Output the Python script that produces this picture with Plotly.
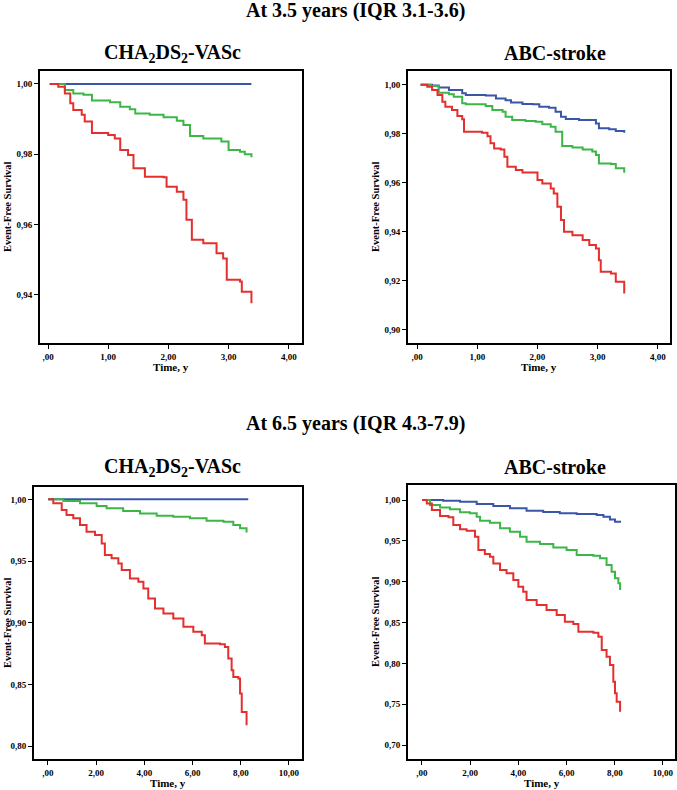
import plotly.graph_objects as go

# ---------------- DATA ----------------
# Panel A: 3.5 years, CHA2DS2-VASc
a_low_t = [0.03, 3.38]
a_low_s = [1.00, 1.00]
a_mid_t = [0.03, 0.28, 0.42, 0.59, 0.73, 1.03, 1.20, 1.36, 1.45, 1.69, 1.92, 2.14, 2.25, 2.36, 2.58, 2.88, 3.00, 3.19, 3.27, 3.38]
a_mid_s = [1.00, 0.9983, 0.9973, 0.9969, 0.9953, 0.9948, 0.9935, 0.9928, 0.9916, 0.9912, 0.9905, 0.9895, 0.9883, 0.9852, 0.9845, 0.9836, 0.9812, 0.9807, 0.9800, 0.9791]
a_high_t = [0.03, 0.17, 0.28, 0.37, 0.42, 0.56, 0.61, 0.73, 1.00, 1.11, 1.20, 1.33, 1.42, 1.61, 1.92, 1.97, 2.14, 2.25, 2.30, 2.39, 2.58, 2.80, 2.91, 2.97, 3.19, 3.22, 3.38, 3.38]
a_high_s = [1.00, 0.9992, 0.9973, 0.9945, 0.9926, 0.9912, 0.9893, 0.9860, 0.9855, 0.9845, 0.9812, 0.9798, 0.9760, 0.9736, 0.9734, 0.9707, 0.9693, 0.9670, 0.9613, 0.9556, 0.9546, 0.9518, 0.9503, 0.9442, 0.9437, 0.9408, 0.9404, 0.9375]

# Panel B: 3.5 years, ABC-stroke
b_low_t = [0.06, 0.25, 0.36, 0.53, 0.75, 0.81, 1.14, 1.31, 1.47, 1.56, 1.75, 1.92, 2.03, 2.19, 2.30, 2.39, 2.47, 2.69, 2.97, 3.02, 3.19, 3.30, 3.44]
b_low_s = [1.00, 0.9997, 0.9989, 0.9978, 0.9965, 0.9958, 0.9956, 0.9944, 0.9937, 0.9927, 0.9921, 0.9920, 0.9910, 0.9906, 0.9890, 0.9869, 0.9860, 0.9856, 0.9842, 0.9822, 0.9818, 0.9811, 0.9804]
b_mid_t = [0.06, 0.23, 0.36, 0.53, 0.61, 0.75, 0.81, 1.14, 1.25, 1.42, 1.47, 1.58, 1.80, 1.97, 2.08, 2.22, 2.30, 2.41, 2.58, 2.75, 2.91, 2.97, 3.02, 3.22, 3.30, 3.44]
b_mid_s = [1.00, 0.9995, 0.9967, 0.9961, 0.9951, 0.9924, 0.9920, 0.9913, 0.9897, 0.9890, 0.9869, 0.9856, 0.9852, 0.9849, 0.9839, 0.9829, 0.9808, 0.9750, 0.9744, 0.9736, 0.9727, 0.9713, 0.9679, 0.9676, 0.9659, 0.9641]
b_high_t = [0.06, 0.17, 0.25, 0.34, 0.42, 0.47, 0.58, 0.67, 0.75, 0.78, 1.08, 1.17, 1.22, 1.28, 1.39, 1.45, 1.50, 1.64, 1.75, 1.94, 2.00, 2.08, 2.22, 2.27, 2.33, 2.39, 2.44, 2.58, 2.75, 2.86, 2.97, 3.02, 3.05, 3.22, 3.30, 3.44, 3.44]
b_high_s = [1.00, 0.9992, 0.9978, 0.9958, 0.9931, 0.9910, 0.9897, 0.9872, 0.9859, 0.9808, 0.9804, 0.9790, 0.9761, 0.9740, 0.9736, 0.9706, 0.9665, 0.9652, 0.9642, 0.9642, 0.9611, 0.9597, 0.9577, 0.9556, 0.9502, 0.9448, 0.9400, 0.9386, 0.9366, 0.9346, 0.9332, 0.9284, 0.9237, 0.9230, 0.9196, 0.9189, 0.9148]

# Panel C: 6.5 years, CHA2DS2-VASc
c_low_t = [0.01, 8.31]
c_low_s = [1.00, 1.00]
c_mid_t = [0.01, 0.64, 1.33, 2.02, 2.43, 3.12, 3.82, 4.51, 5.20, 5.89, 6.58, 7.28, 7.69, 7.97, 8.24]
c_mid_s = [1.00, 0.9986, 0.9968, 0.9946, 0.9927, 0.9905, 0.9886, 0.9868, 0.9859, 0.9846, 0.9827, 0.9819, 0.9792, 0.9765, 0.9732]
c_high_t = [0.01, 0.22, 0.57, 0.77, 1.05, 1.33, 1.60, 1.95, 2.23, 2.36, 2.64, 2.92, 3.06, 3.40, 3.75, 3.96, 4.16, 4.44, 4.79, 5.20, 5.62, 6.03, 6.38, 6.51, 7.14, 7.34, 7.48, 7.62, 7.69, 7.90, 7.97, 8.04, 8.24, 8.24]
c_high_s = [1.00, 0.9968, 0.9914, 0.9873, 0.9846, 0.9792, 0.9738, 0.9711, 0.9643, 0.9549, 0.9522, 0.9481, 0.9427, 0.9359, 0.9332, 0.9278, 0.9197, 0.9116, 0.9076, 0.9035, 0.8968, 0.8927, 0.8900, 0.8832, 0.8827, 0.8805, 0.8711, 0.8616, 0.8562, 0.8549, 0.8427, 0.8278, 0.8265, 0.8170]

# Panel D: 6.5 years, ABC-stroke
d_low_t = [0.00, 0.88, 1.58, 2.27, 2.96, 3.65, 4.34, 5.03, 5.72, 6.42, 7.25, 7.53, 7.80, 8.01, 8.22]
d_low_s = [1.00, 0.9992, 0.9980, 0.9951, 0.9927, 0.9898, 0.9869, 0.9853, 0.9837, 0.9829, 0.9816, 0.9796, 0.9763, 0.9735, 0.9722]
d_mid_t = [0.00, 0.33, 0.75, 1.16, 1.58, 1.99, 2.27, 2.41, 2.82, 3.24, 3.65, 4.07, 4.34, 4.90, 5.45, 6.00, 6.42, 7.11, 7.39, 7.66, 7.87, 8.01, 8.15, 8.22]
d_mid_s = [1.00, 0.9939, 0.9910, 0.9886, 0.9849, 0.9837, 0.9796, 0.9747, 0.9722, 0.9653, 0.9612, 0.9551, 0.9490, 0.9461, 0.9420, 0.9388, 0.9327, 0.9318, 0.9286, 0.9204, 0.9122, 0.9041, 0.8980, 0.8898]
d_high_t = [0.00, 0.20, 0.41, 0.75, 1.10, 1.30, 1.58, 1.85, 2.20, 2.34, 2.61, 2.82, 2.96, 3.24, 3.51, 3.79, 4.00, 4.20, 4.34, 4.76, 5.17, 5.59, 5.93, 6.28, 6.49, 7.11, 7.32, 7.46, 7.66, 7.80, 7.94, 8.01, 8.08, 8.22, 8.22]
d_high_s = [1.00, 0.9959, 0.9878, 0.9804, 0.9788, 0.9694, 0.9641, 0.9624, 0.9551, 0.9388, 0.9339, 0.9306, 0.9224, 0.9143, 0.9102, 0.9020, 0.8939, 0.8878, 0.8776, 0.8714, 0.8653, 0.8592, 0.8510, 0.8482, 0.8388, 0.8376, 0.8327, 0.8163, 0.8082, 0.7980, 0.7776, 0.7633, 0.7531, 0.7510, 0.7408]

# tick labels
x_ticks_short = [0, 1, 2, 3, 4]
x_text_short = [",00", "1,00", "2,00", "3,00", "4,00"]
x_ticks_long = [0, 2, 4, 6, 8, 10]
x_text_long = [",00", "2,00", "4,00", "6,00", "8,00", "10,00"]
y_ticks_a = [0.94, 0.96, 0.98, 1.00]
y_text_a = ["0,94", "0,96", "0,98", "1,00"]
y_ticks_b = [0.90, 0.92, 0.94, 0.96, 0.98, 1.00]
y_text_b = ["0,90", "0,92", "0,94", "0,96", "0,98", "1,00"]
y_ticks_c = [0.80, 0.85, 0.90, 0.95, 1.00]
y_text_c = ["0,80", "0,85", "0,90", "0,95", "1,00"]
y_ticks_d = [0.70, 0.75, 0.80, 0.85, 0.90, 0.95, 1.00]
y_text_d = ["0,70", "0,75", "0,80", "0,85", "0,90", "0,95", "1,00"]

main_titles = ["At 3.5 years (IQR 3.1-3.6)", "At 6.5 years (IQR 4.3-7.9)"]
panel_titles = ["CHA<sub>2</sub>DS<sub>2</sub>-VASc", "ABC-stroke"]
y_title = "Event-Free Survival"
x_title = "Time, y"

# ---------------- STYLE / LAYOUT ----------------
W, H = 677, 790
BLUE, GREEN, RED = "#3a56a8", "#3db648", "#e3302f"
FONT = "Liberation Serif"

# panel pixel boxes: (left, right, top, bottom), x-range, y-range
panels = [
    dict(box=(40, 302, 71, 343), xr=[-0.133, 4.22], yr=[0.9262, 1.0037],
         xt=(x_ticks_short, x_text_short), yt=(y_ticks_a, y_text_a),
         series=[(a_low_t, a_low_s, BLUE), (a_mid_t, a_mid_s, GREEN), (a_high_t, a_high_s, RED)]),
    dict(box=(408, 670, 71, 343), xr=[-0.15, 4.20], yr=[0.8946, 1.0056],
         xt=(x_ticks_short, x_text_short), yt=(y_ticks_b, y_text_b),
         series=[(b_low_t, b_low_s, BLUE), (b_mid_t, b_mid_s, GREEN), (b_high_t, b_high_s, RED)]),
    dict(box=(34, 302, 487, 759), xr=[-0.58, 10.54], yr=[0.7897, 1.0100],
         xt=(x_ticks_long, x_text_long), yt=(y_ticks_c, y_text_c),
         series=[(c_low_t, c_low_s, BLUE), (c_mid_t, c_mid_s, GREEN), (c_high_t, c_high_s, RED)]),
    dict(box=(408, 675, 485, 759), xr=[-0.58, 10.50], yr=[0.6829, 1.0184],
         xt=(x_ticks_long, x_text_long), yt=(y_ticks_d, y_text_d),
         series=[(d_low_t, d_low_s, BLUE), (d_mid_t, d_mid_s, GREEN), (d_high_t, d_high_s, RED)]),
]

fig = go.Figure()
layout = dict(width=W, height=H, margin=dict(l=0, r=0, t=0, b=0),
              paper_bgcolor="white", plot_bgcolor="white", showlegend=False)

tickfont = dict(family=FONT, size=9, color="black", weight="bold")
annotations = []

for i, p in enumerate(panels, start=1):
    l, r, t, b = p["box"]
    xa = "xaxis" if i == 1 else f"xaxis{i}"
    ya = "yaxis" if i == 1 else f"yaxis{i}"
    xref = "x" if i == 1 else f"x{i}"
    yref = "y" if i == 1 else f"y{i}"
    common = dict(showline=True, mirror=True, linecolor="black", linewidth=2,
                  ticks="outside", ticklen=4, tickwidth=1, tickcolor="black",
                  showgrid=False, zeroline=False, tickfont=tickfont, fixedrange=True)
    layout[xa] = dict(domain=[l / W, r / W], range=p["xr"], anchor=yref,
                      tickvals=p["xt"][0], ticktext=p["xt"][1], **common)
    layout[ya] = dict(domain=[1 - b / H, 1 - t / H], range=p["yr"], anchor=xref,
                      tickvals=p["yt"][0], ticktext=p["yt"][1], **common)
    for tt, ss, col in p["series"]:
        fig.add_trace(go.Scatter(x=tt, y=ss, mode="lines", line=dict(color=col, width=2, shape="hv"),
                                 xaxis=xref, yaxis=yref, hoverinfo="skip"))
    # axis titles
    annotations.append(dict(text=f"<b>{x_title}</b>", x=(l + r) / 2 / W, y=1 - (b + 24) / H,
                            xref="paper", yref="paper", showarrow=False,
                            font=dict(family=FONT, size=11, color="black"),
                            xanchor="center", yanchor="middle"))
    ytx = 7 if l < 100 else 375
    annotations.append(dict(text=f"<b>{y_title}</b>", x=ytx / W, y=1 - (t + b) / 2 / H,
                            xref="paper", yref="paper", showarrow=False, textangle=-90,
                            font=dict(family=FONT, size=10.5, color="black"),
                            xanchor="center", yanchor="middle"))

# main titles and panel titles
for mt, yy in zip(main_titles, [11, 423]):
    annotations.append(dict(text=f"<b>{mt}</b>", x=355 / W, y=1 - yy / H, xref="paper", yref="paper",
                            showarrow=False, font=dict(family=FONT, size=20, color="black"),
                            xanchor="center", yanchor="middle"))
for yy in [53, 467]:
    for pt, cx in zip(panel_titles, [172, 555]):
        annotations.append(dict(text=f"<b>{pt}</b>", x=cx / W, y=1 - yy / H, xref="paper", yref="paper",
                                showarrow=False, font=dict(family=FONT, size=20, color="black"),
                                xanchor="center", yanchor="middle"))

layout["annotations"] = annotations
fig.update_layout(**layout)
# remove the default 8px page margin so the figure sits at the window's top-left corner
fig.write_html("out.html", config={"displayModeBar": False},
               post_script="document.body.style.margin='0';")
